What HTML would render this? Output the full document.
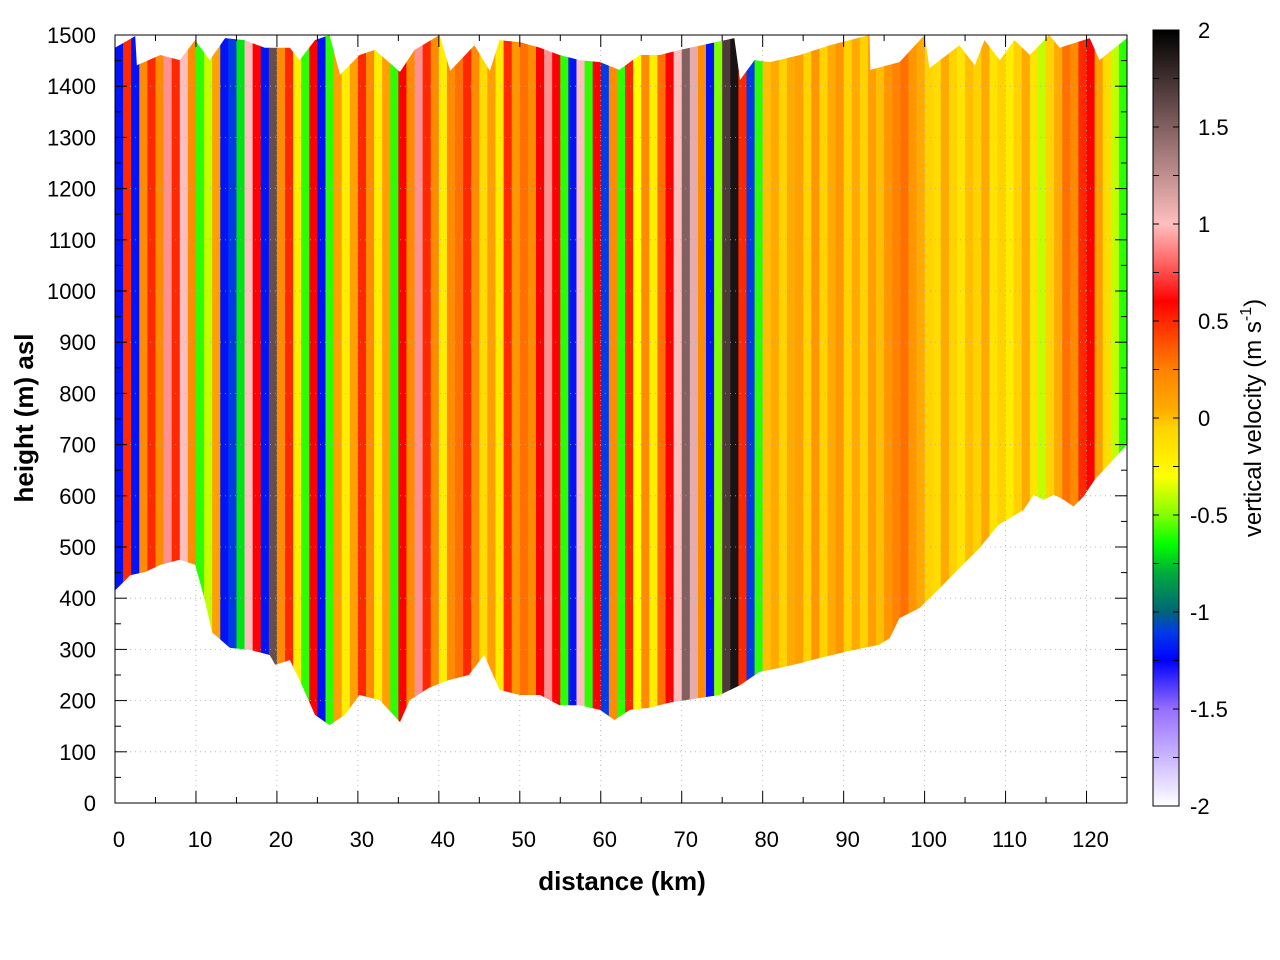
<!DOCTYPE html>
<html><head><meta charset="utf-8"><style>
body{margin:0;background:#fff;}
svg{display:block;font-family:"Liberation Sans",sans-serif;}
</style></head><body>
<svg id="chart" width="1280" height="960">
<defs><clipPath id="terrain"><polygon id="clipPoly"/></clipPath>
<linearGradient id="cbGrad" x1="0" y1="1" x2="0" y2="0"></linearGradient></defs>
<g id="plot" clip-path="url(#terrain)"></g>
<g id="grid"></g>
<rect x="115" y="35" width="1012" height="768" fill="none" stroke="#000" stroke-width="1"/>
<g id="axes"></g>
<text x="33" y="418" font-size="26" font-weight="bold" text-anchor="middle" transform="rotate(-90 33 418)">height (m) asl</text>
<text x="622" y="890" font-size="26" font-weight="bold" text-anchor="middle">distance (km)</text>
<rect x="1153" y="30" width="26" height="776" fill="url(#cbGrad)" stroke="#000"/>
<g id="cbaxis"></g>
<text x="1261" y="418" font-size="24" text-anchor="middle" transform="rotate(-90 1261 418)">vertical velocity (m s<tspan dy="-10" font-size="16">-1</tspan><tspan dy="10">)</tspan></text>
</svg>
<script>
const velocity=[-1.2,0.5,-1.2,0.2,0.5,0.2,0.9,0.5,1.0,0.2,-0.6,-0.4,0.1,-1.2,-1.1,-0.7,1.0,0.6,-1.2,1.6,0.2,0.5,-0.2,-0.6,0.6,-1.2,-0.6,0.1,-0.2,0.1,0.5,0.2,-0.2,0.1,-0.6,0.6,0.2,0.9,0.5,0.2,-0.2,0.2,0.3,0.5,0.2,-0.1,0.1,-0.2,0.5,0.15,0.3,0.2,0.6,0.9,0.6,-0.6,-1.2,1.0,-0.6,0.6,-1.1,0.2,-0.6,0.5,-0.3,0.2,-0.2,0.3,0.6,1.0,1.5,1.1,0.2,-1.2,-0.5,1.7,1.9,0.5,-1.1,-0.6,0.0,0.05,-0.05,0.05,0.1,-0.05,0.15,-0.05,0.05,0.15,-0.05,0.05,-0.05,0.1,0.0,0.15,0.25,0.3,0.15,0.05,-0.05,-0.1,0.05,-0.05,-0.15,0.0,-0.05,0.05,-0.15,-0.05,-0.2,-0.05,0.05,-0.15,-0.4,-0.05,0.05,0.3,0.2,0.5,0.6,0.1,-0.1,-0.4,-0.6];
const topKm=[0,2.5,2.7,5.6,8.0,9.9,11.7,13.6,16.0,18.5,21.6,22.8,24.7,26.5,27.8,30.2,32.1,35.2,37.0,40.1,41.4,44.4,46.3,47.5,50.0,52.5,54.9,57.4,59.9,62.3,64.8,67.3,69.8,76.5,77.2,79.0,80.9,84.6,88.3,93.2,93.3,96.9,100.0,100.6,104.3,106.2,107.4,109.3,111.1,113.0,115.4,116.7,120.4,121.6,125];
const topH=[1475,1498,1441,1461,1451,1490,1451,1494,1490,1475,1475,1451,1490,1500,1422,1461,1471,1428,1471,1500,1430,1480,1430,1490,1486,1475,1461,1451,1447,1432,1461,1461,1471,1494,1412,1451,1447,1461,1480,1500,1432,1447,1500,1435,1480,1441,1490,1451,1490,1461,1500,1475,1494,1451,1494];
const botKm=[0,1.9,3.7,5.6,8.0,9.9,11.1,12.0,14.2,16.7,19.1,19.8,21.6,22.8,24.7,26.5,28.4,30.2,32.7,35.2,36.4,38.8,41.2,43.7,45.6,47.5,50.0,52.5,54.9,57.4,59.9,61.7,63.6,66.0,68.5,72.2,74.7,77.2,79.6,82.1,84.6,87.0,90.7,94.4,95.7,96.9,99.4,101.9,104.3,106.8,109.1,112.2,113.5,114.7,116.0,117.2,118.4,119.6,121.0,125];
const botH=[415,445,451,465,475,465,396,333,303,299,289,270,279,240,172,152,172,211,201,158,201,225,240,250,289,221,211,211,191,191,182,162,182,186,196,205,211,230,256,264,273,283,297,309,322,361,381,420,459,498,543,572,602,592,602,592,579,598,631,700];
const xTicks=[0,10,20,30,40,50,60,70,80,90,100,110,120];
const yTicks=[0,100,200,300,400,500,600,700,800,900,1000,1100,1200,1300,1400,1500];
const cbTicks=[-2,-1.5,-1,-0.5,0,0.5,1,1.5,2];

const X0=115,X1=1127,Y0=803,Y1=35;
const sx=k=>X0+(X1-X0)*k/125, sy=h=>Y0-(Y0-Y1)*h/1500;
const stops=[[-2,[255,255,255]],[-1.5,[150,110,255]],[-1.25,[0,0,255]],[-1.1,[0,60,230]],[-1,[0,100,120]],[-0.8,[0,170,60]],[-0.65,[0,255,0]],[-0.5,[130,255,0]],[-0.3,[255,255,0]],[-0.05,[255,210,0]],[0.05,[255,170,0]],[0.25,[255,130,0]],[0.5,[255,40,0]],[0.6,[255,0,0]],[0.8,[255,100,100]],[1,[255,190,190]],[1.5,[130,96,96]],[2,[0,0,0]]];
function col(v){v=Math.max(-2,Math.min(2,v));for(let i=0;i<stops.length-1;i++){const a=stops[i],b=stops[i+1];if(v<=b[0]){const t=(v-a[0])/(b[0]-a[0]);const c=a[1].map((q,j)=>Math.round(q+(b[1][j]-q)*t));return `rgb(${c})`;}}return 'rgb(0,0,0)';}
const NS='http://www.w3.org/2000/svg';
function mk(t,a,p){const e=document.createElementNS(NS,t);for(const k in a)e.setAttribute(k,a[k]);p.appendChild(e);return e;}
let pts=topKm.map((k,i)=>sx(k)+','+sy(topH[i]));
for(let i=botKm.length-1;i>=0;i--)pts.push(sx(botKm[i])+','+sy(botH[i]));
document.getElementById('clipPoly').setAttribute('points',pts.join(' '));
const plot=document.getElementById('plot');
velocity.forEach((v,i)=>{const r=mk('rect',{x:sx(i),y:Y1,width:sx(i+1)-sx(i)+0.6,height:Y0-Y1,fill:col(v)},plot);

});
const grid=document.getElementById('grid'),axes=document.getElementById('axes');
xTicks.forEach(k=>{const x=sx(k);
if(k>0){const g=mk('line',{x1:x,x2:x,y1:Y1,y2:Y0,stroke:'#aaa','stroke-width':0.8,'stroke-dasharray':'1,4'},grid);}
mk('line',{x1:x,x2:x,y1:Y0,y2:Y0-12,stroke:'#000'},axes);mk('line',{x1:x,x2:x,y1:Y1,y2:Y1+12,stroke:'#000'},axes);
const xm=sx(k+5);if(k+5<125){mk('line',{x1:xm,x2:xm,y1:Y0,y2:Y0-6,stroke:'#000'},axes);mk('line',{x1:xm,x2:xm,y1:Y1,y2:Y1+6,stroke:'#000'},axes);}
const t=mk('text',{x:x+4,y:847,'font-size':22,'text-anchor':'middle'},axes);t.textContent=k;
});
yTicks.forEach(h=>{const y=sy(h);
if(h>0&&h<1500){const g=mk('line',{x1:X0,x2:X1,y1:y,y2:y,stroke:'#aaa','stroke-width':0.8,'stroke-dasharray':'1,4'},grid);}
mk('line',{x1:X0,x2:X0+12,y1:y,y2:y,stroke:'#000'},axes);mk('line',{x1:X1,x2:X1-12,y1:y,y2:y,stroke:'#000'},axes);
if(h<1500){const ym=sy(h+50);mk('line',{x1:X0,x2:X0+6,y1:ym,y2:ym,stroke:'#000'},axes);mk('line',{x1:X1,x2:X1-6,y1:ym,y2:ym,stroke:'#000'},axes);}
const t=mk('text',{x:96,y:y+8,'font-size':22,'text-anchor':'end'},axes);t.textContent=h;
});
const grad=document.getElementById('cbGrad');
stops.forEach(s=>mk('stop',{offset:((s[0]+2)/4*100)+'%','stop-color':col(s[0])},grad));
const cb=document.getElementById('cbaxis');const cy=v=>806-(v+2)/4*776;
for(let v=-2;v<=2.001;v+=0.25){const y=cy(v);mk('line',{x1:1153,x2:1159,y1:y,y2:y,stroke:'#000'},cb);mk('line',{x1:1179,x2:1173,y1:y,y2:y,stroke:'#000'},cb);}
cbTicks.forEach(v=>{const t=mk('text',{x:v<0?1190:1198,y:cy(v)+8,'font-size':22},cb);t.textContent=v;
});
</script>
</body></html>
